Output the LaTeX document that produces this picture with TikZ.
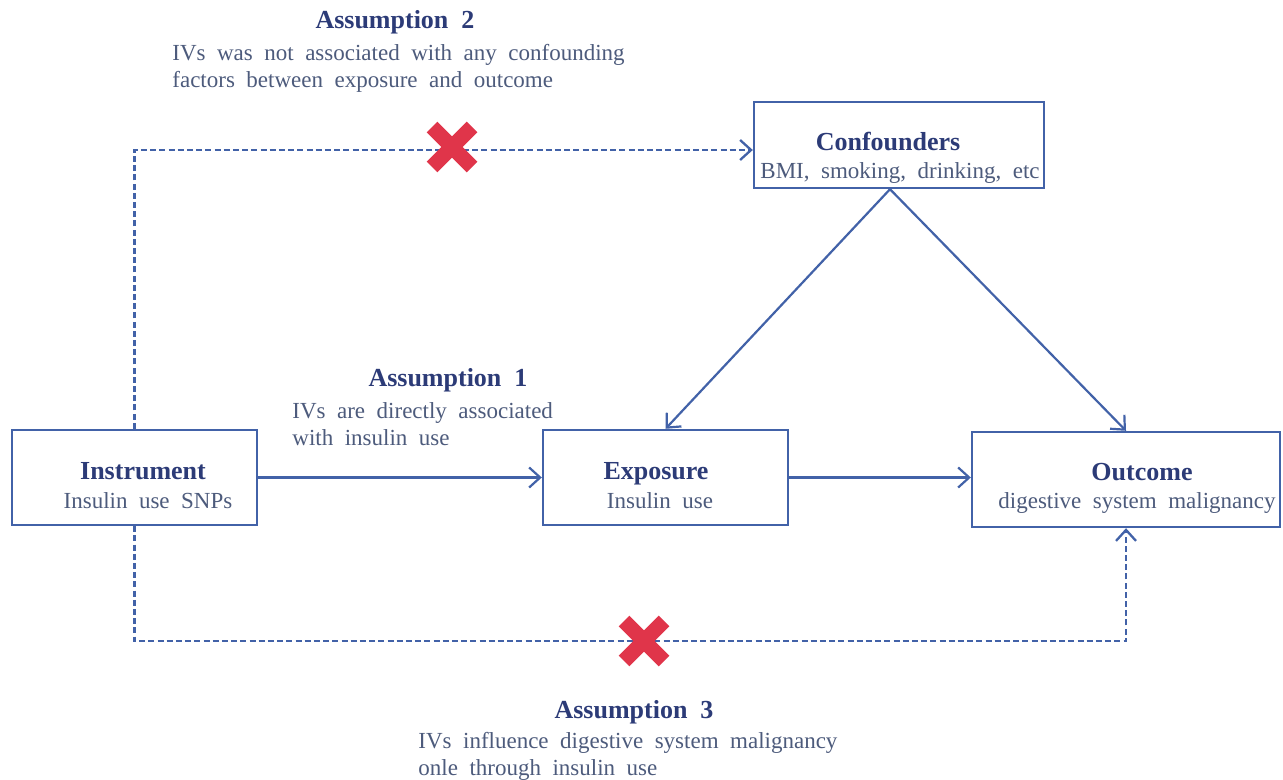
\documentclass[tikz,border=0pt]{standalone}
\usepackage{fontspec}
\setmainfont{Liberation Serif}[WordSpace=2]
\usetikzlibrary{arrows.meta}
\newlength{\du}
\setlength{\du}{0.5pt}
\definecolor{dialinecolor}{HTML}{4262A8}
\definecolor{diatitlecolor}{HTML}{2C3B77}
\definecolor{diatextcolor}{HTML}{4D5B7C}
\definecolor{diacrosscolor}{HTML}{E0354A}

\begin{document}
\begin{tikzpicture}[x=\du,y=-\du,
  box/.style={draw=dialinecolor,line width=2.4\du,fill=white,inner sep=0pt},
  titletext/.style={text=diatitlecolor,font=\fontsize{13}{15}\selectfont\bfseries,inner sep=0pt},
  bodytext/.style={text=diatextcolor,font=\fontsize{11.5}{13.5}\selectfont,align=left,inner sep=0pt},
  link/.style={draw=dialinecolor,line width=2.2\du,-{Straight Barb[length=5.5pt,width=10pt]}},
  dashlink/.style={link,line width=2.3\du,dash pattern=on 3pt off 1.6pt},
  cross/.style={draw=diacrosscolor,line width=15\du}]
\fill[white] (0,0) rectangle (1283,780);
\useasboundingbox (0,0) rectangle (1283,780);
\node[box,minimum width=245\du,minimum height=95\du] (instr) at (134.5,477.5) {};
\node[box,minimum width=245\du,minimum height=95\du] (expo) at (665.5,477.5) {};
\node[box,minimum width=308\du,minimum height=95\du] (outc) at (1126,479.5) {};
\node[box,minimum width=290\du,minimum height=86\du] (conf) at (899,145) {};
\node[titletext,anchor=base] (instrtitle) at (143,479) {Instrument};
\node[bodytext,anchor=base] (instrsub) at (148,508) {Insulin use SNPs};
\node[titletext,anchor=base] (expotitle) at (656,479) {Exposure};
\node[bodytext,anchor=base] (exposub) at (660,508) {Insulin use};
\node[titletext,anchor=base] (outctitle) at (1142,480) {Outcome};
\node[bodytext,anchor=base] (outcsub) at (1137,508) {digestive system malignancy};
\node[titletext,anchor=base] (conftitle) at (888,151) {Confounders};
\node[bodytext,anchor=base] (confsub) at (900,179) {BMI, smoking, drinking, etc};
\draw[link] (instr) -- (expo);
\draw[link] (expo.east) -- (expo.east -| outc.west);
\draw[link] ([xshift=-4.5pt]conf.south) -- (expo.north);
\draw[link] ([xshift=-4.5pt]conf.south) -- (outc.north);
\draw[dashlink] (instr.north) |- ([yshift=-2.5pt]conf.west);
\draw[dashlink] (instr.south) -- ++(0,115) -| (outc.south);
\draw[cross] (432,127) -- (472,167) (432,167) -- (472,127);
\draw[cross] (624,621) -- (664,661) (624,661) -- (664,621);
\node[titletext] (asstwo) at (395,22) {Assumption 2};
\node[bodytext,anchor=west] (asstwotext) at (172,68) {IVs was not associated with any confounding\\factors between exposure and outcome};
\node[titletext] (assone) at (448,380) {Assumption 1};
\node[bodytext,anchor=west] (assonetext) at (292,424) {IVs are directly associated\\with insulin use};
\node[titletext] (assthree) at (634,712) {Assumption 3};
\node[bodytext,anchor=west] (assthreetext) at (418,756) {IVs influence digestive system malignancy\\onle through insulin use};
\end{tikzpicture}
\end{document}
